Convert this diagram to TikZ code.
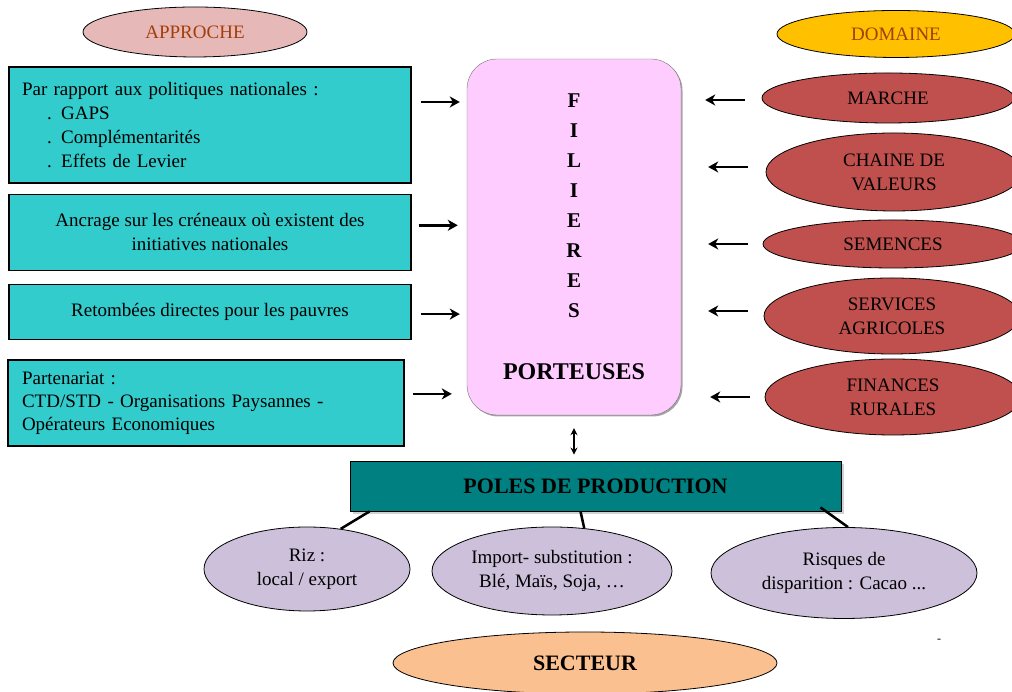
\documentclass[tikz,border=0pt]{standalone}
\usepackage{fontspec}
\setmainfont{Liberation Serif}
\usepackage{xcolor}
\usetikzlibrary{shapes.geometric, arrows.meta, positioning, shadows}
\definecolor{appcolor}{RGB}{230,185,184}
\definecolor{domcolor}{RGB}{255,192,0}
\definecolor{headtext}{RGB}{163,62,10}
\definecolor{boxcolor}{RGB}{51,204,204}
\definecolor{filcolor}{RGB}{255,204,255}
\definecolor{redcolor}{RGB}{192,80,77}
\definecolor{polecolor}{RGB}{0,128,128}
\definecolor{prodcolor}{RGB}{204,192,218}
\definecolor{seccolor}{RGB}{250,192,144}

\begin{document}
\begin{tikzpicture}[x=1pt, y=1pt,
  apbox/.style={rectangle, draw=black, line width=1.3pt, fill=boxcolor,
                minimum width=402pt, inner xsep=13pt,
                font=\fontsize{19}{24}\selectfont},
  head/.style={ellipse, draw=black, line width=0.8pt, inner sep=0pt,
               text=headtext, font=\fontsize{19}{24}\selectfont},
  dom/.style={ellipse, draw=black, line width=0.8pt, fill=redcolor,
              inner sep=0pt, align=center, font=\fontsize{19}{24}\selectfont},
  prod/.style={ellipse, draw=black, line width=0.8pt, fill=prodcolor,
               inner sep=0pt, align=center, font=\fontsize{19}{24}\selectfont},
  arrow/.style={-{Stealth[length=10pt, width=11pt, inset=3pt]}, line width=2.6pt},
  link/.style={line width=2.5pt}
]
\useasboundingbox (0,0) rectangle (1012,692);

\node[head, fill=appcolor, minimum width=224pt, minimum height=50pt]
  (approche) at (195,660) {APPROCHE};
\node[head, fill=domcolor, minimum width=238pt, minimum height=47pt]
  (domaine) at (896,658) {DOMAINE};

\node[apbox, minimum height=116pt, text width=376pt, align=left]
  (politiques) at (210,567) {Par rapport aux politiques nationales :\\
  \hspace*{25pt}. GAPS\\ \hspace*{25pt}. Complémentarités\\
  \hspace*{25pt}. Effets de Levier};
\node[apbox, minimum height=76pt, align=center, below=10pt of politiques]
  (ancrage) {Ancrage sur les créneaux où existent des\\initiatives nationales};
\node[apbox, minimum height=55pt, below=13pt of ancrage]
  (retombees) {Retombées directes pour les pauvres};
\node[apbox, minimum width=396pt, minimum height=86pt, text width=368pt,
      inner xsep=14pt, align=left, below=19pt of retombees, xshift=-4pt,
      font=\fontsize{19}{23}\selectfont]
  (partenariat) {Partenariat :\\CTD/STD - Organisations Paysannes -\\
  Opérateurs Economiques};

\node[rectangle, rounded corners=30pt, fill=filcolor, draw=black!55,
      minimum width=214pt, minimum height=356pt, align=center,
      drop shadow={shadow xshift=1.5pt, shadow yshift=-1.5pt, fill=black!70},
      font=\bfseries\fontsize{21}{30}\selectfont]
  (filieres) at (574,455) {F\\I\\L\\I\\E\\R\\E\\S\\[32pt]
  {\fontsize{24}{30}\selectfont PORTEUSES}};

\node[dom, minimum width=252pt, minimum height=50pt]
  (marche) at (888,594) {MARCHE};
\node[dom, minimum width=256pt, minimum height=78pt]
  (chaine) at (894,520) {CHAINE DE\\VALEURS};
\node[dom, minimum width=260pt, minimum height=48pt]
  (semences) at (893,448) {SEMENCES};
\node[dom, minimum width=256pt, minimum height=76pt]
  (services) at (892,376) {SERVICES\\AGRICOLES};
\node[dom, minimum width=256pt, minimum height=76pt]
  (finances) at (893,295) {FINANCES\\RURALES};

\node[rectangle, draw=black, line width=0.8pt, fill=polecolor,
      minimum width=491pt, minimum height=50pt,
      drop shadow={shadow xshift=3pt, shadow yshift=-3pt, fill=black!35},
      font=\bfseries\fontsize{22}{26}\selectfont]
  (poles) at (595.5,206) {POLES DE PRODUCTION};

\node[prod, minimum width=206pt, minimum height=84pt]
  (riz) at (307,123) {Riz :\\local / export};
\node[prod, minimum width=240pt, minimum height=88pt]
  (import) at (552,121) {Import- substitution :\\Blé, Maïs, Soja, …};
\node[prod, minimum width=266pt, minimum height=91pt]
  (risques) at (844,119) {Risques de\\disparition : Cacao ...};

\node[ellipse, draw=black, line width=0.8pt, fill=seccolor, inner sep=0pt,
      minimum width=384pt, minimum height=62pt,
      font=\bfseries\fontsize{22}{26}\selectfont]
  (secteur) at (585,29) {SECTEUR};
\node[font=\fontsize{12}{12}\selectfont, inner sep=0pt]
  (tick) at (939,51) {-};

\draw[arrow, shorten <=9pt, shorten >=7pt]
  ([yshift=23pt]politiques.east) -- ([yshift=23pt]politiques.east -| filieres.west);
\draw[arrow, shorten <=7pt, shorten >=9pt]
  ([yshift=7pt]ancrage.east) -- ([yshift=7pt]ancrage.east -| filieres.west);
\draw[arrow, shorten <=9pt, shorten >=7pt]
  ([yshift=-2pt]retombees.east) -- ([yshift=-2pt]retombees.east -| filieres.west);
\draw[arrow, shorten <=8pt, shorten >=15pt]
  ([yshift=9pt]partenariat.east) -- ([yshift=9pt]partenariat.east -| filieres.west);

\draw[arrow, shorten <=17pt, shorten >=24pt]
  ([yshift=-2pt]marche.west) -- ([yshift=-2pt]marche.west -| filieres.east);
\draw[arrow, shorten <=18pt, shorten >=27pt]
  ([yshift=5pt]chaine.west) -- ([yshift=5pt]chaine.west -| filieres.east);
\draw[arrow, shorten <=15pt, shorten >=27pt]
  (semences.west) -- (semences.west -| filieres.east);
\draw[arrow, shorten <=16pt, shorten >=27pt]
  ([yshift=5pt]services.west) -- ([yshift=5pt]services.west -| filieres.east);
\draw[arrow, shorten <=15pt, shorten >=29pt]
  (finances.west) -- (finances.west -| filieres.east);

\draw[{Stealth[length=7pt, width=7pt]}-{Stealth[length=7pt, width=7pt]},
      line width=1.6pt, shorten <=13pt, shorten >=6pt]
  (filieres.south) -- (filieres.south |- poles.north);

\draw[link] ([xshift=20pt]poles.south west) -- (riz.50);
\draw[link] ([xshift=-15pt]poles.south) -- (import.53);
\draw[link] ([xshift=-21pt, yshift=4pt]poles.south east) -- (risques.85);

\end{tikzpicture}
\end{document}
